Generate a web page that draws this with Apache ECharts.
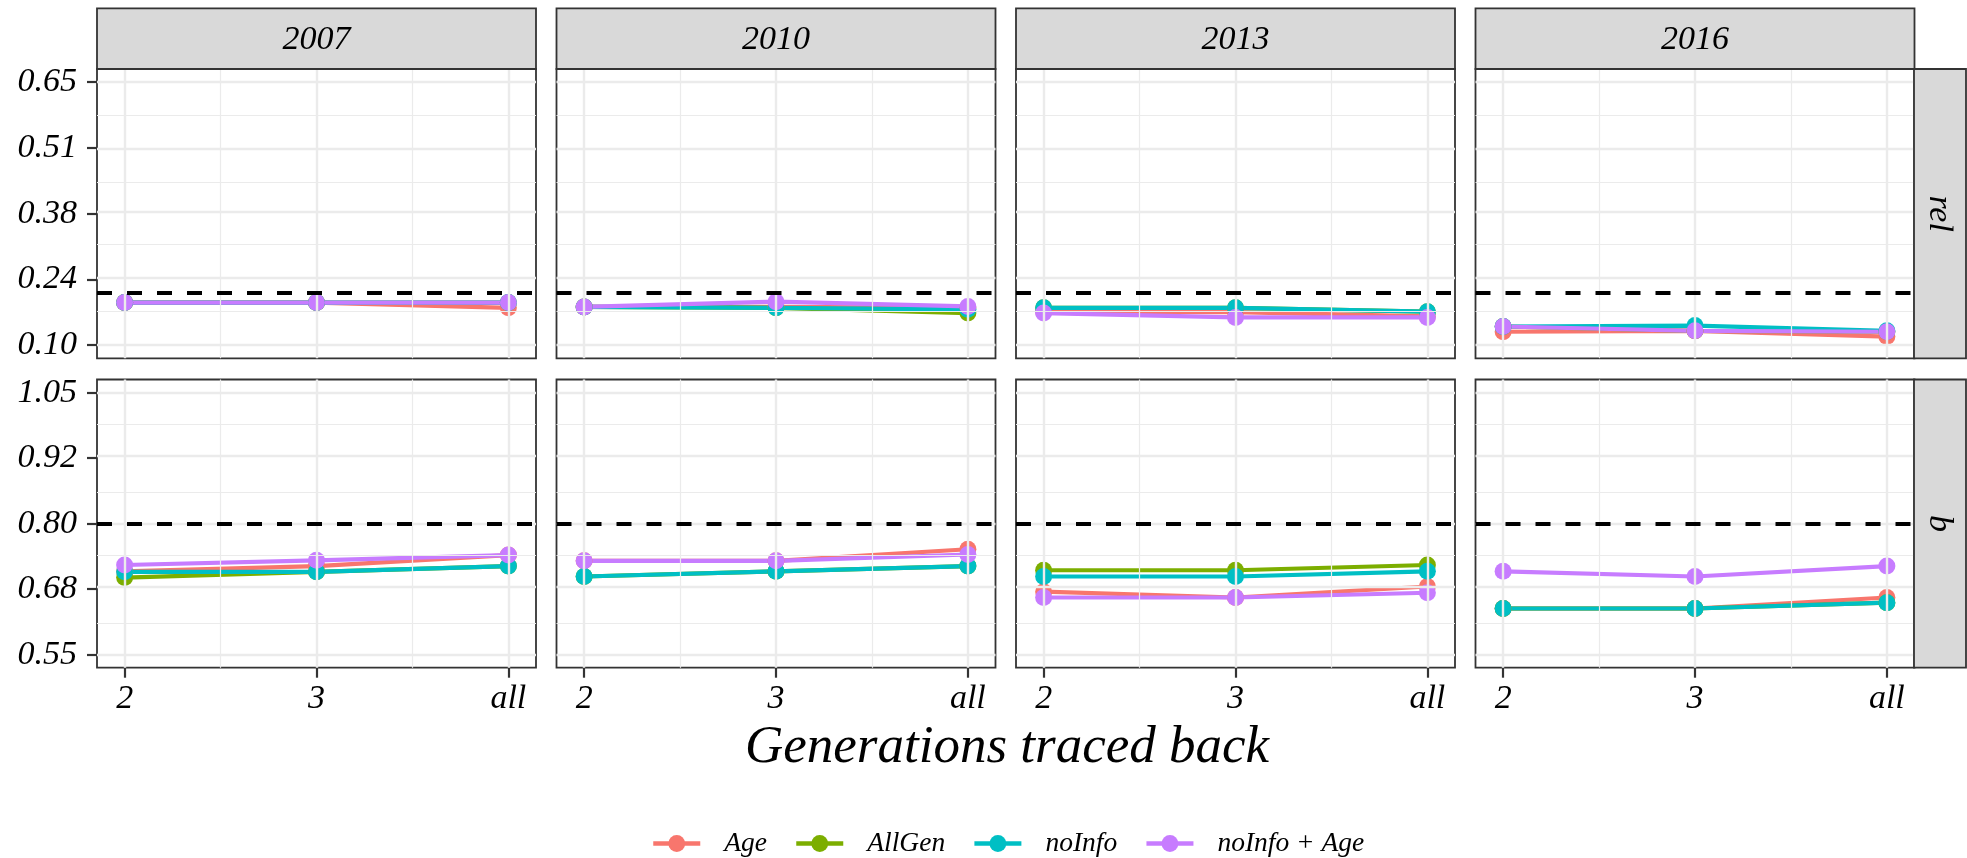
<!DOCTYPE html>
<html>
<head>
<meta charset="utf-8">
<script src="https://cdn.jsdelivr.net/npm/echarts@6/dist/echarts.min.js"></script>
<style>
html,body{margin:0;padding:0;background:#fff;}
#chart{width:1967px;height:858px;}
</style>
</head>
<body>
<div id="chart"></div>
<script>
// ---------------- data ----------------
const categories = ['2', '3', 'all'];
const years = ['2007', '2010', '2013', '2016'];
const facets = ['rel', 'b'];
const seriesNames = ['Age', 'AllGen', 'noInfo', 'noInfo + Age'];

const relTicks = [0.10, 0.2375, 0.375, 0.5125, 0.65];
const relTickLabels = ['0.10', '0.24', '0.38', '0.51', '0.65'];
const bTicks = [0.55, 0.675, 0.80, 0.925, 1.05];
const bTickLabels = ['0.55', '0.68', '0.80', '0.92', '1.05'];
const refLines = [0.21, 0.80];

// each array: one row per year (2007, 2010, 2013, 2016), values for 2, 3, all
const relAge       = [[0.189, 0.189, 0.178], [0.180, 0.180, 0.178], [0.170, 0.169, 0.160], [0.128, 0.130, 0.118]];
const relAllGen    = [[0.189, 0.189, 0.189], [0.180, 0.178, 0.167], [0.178, 0.178, 0.170], [0.139, 0.130, 0.128]];
const relNoInfo    = [[0.189, 0.189, 0.189], [0.180, 0.178, 0.175], [0.178, 0.178, 0.170], [0.139, 0.141, 0.130]];
const relNoInfoAge = [[0.189, 0.189, 0.189], [0.180, 0.191, 0.181], [0.167, 0.158, 0.158], [0.139, 0.130, 0.128]];

const bAge       = [[0.709, 0.719, 0.740], [0.729, 0.729, 0.751], [0.670, 0.659, 0.680], [0.638, 0.638, 0.659]];
const bAllGen    = [[0.697, 0.708, 0.719], [0.699, 0.709, 0.719], [0.711, 0.711, 0.721], [0.638, 0.638, 0.649]];
const bNoInfo    = [[0.708, 0.708, 0.719], [0.699, 0.709, 0.719], [0.699, 0.699, 0.709], [0.638, 0.638, 0.649]];
const bNoInfoAge = [[0.721, 0.730, 0.740], [0.729, 0.729, 0.741], [0.659, 0.659, 0.668], [0.709, 0.699, 0.719]];

// ---------------- layout / style ----------------
const colors = ['#F8766D', '#7CAE00', '#00BFC4', '#C77CFF'];
const FONT = '"Liberation Serif", "Times New Roman", serif';
const colLeft0 = 97, colStep = 459.5, panelW = 439;
const rowTop = [69, 379.5], rowH = [289.3, 288.2];
const yRanges = [[0.0725, 0.6775], [0.525, 1.075]];
const xRange = [-0.144, 2.144];
const stripTop = 8.3, stripRightX = 1914, stripRightW = 52;

const facetData = [
  [relAge, relAllGen, relNoInfo, relNoInfoAge],
  [bAge, bAllGen, bNoInfo, bNoInfoAge]
];
const facetTicks = [relTicks, bTicks];
const facetLabels = [relTickLabels, bTickLabels];

const option = {
  animation: false,
  grid: [], xAxis: [], yAxis: [], series: [],
  legend: {
    data: seriesNames,
    left: 646, top: 825,
    itemWidth: 47, itemHeight: 21, itemGap: 27,
    selectedMode: false,
    lineStyle: { width: 4.5 },
    textStyle: { fontFamily: FONT, fontStyle: 'italic', fontSize: 27.5, color: '#000', padding: [0, 0, 0, 19] }
  },
  graphic: []
};

for (let r = 0; r < 2; r++) {
  const ticks = facetTicks[r];
  const labels = facetLabels[r];
  const minors = [];
  for (let k = 0; k < ticks.length - 1; k++) minors.push((ticks[k] + ticks[k + 1]) / 2);
  for (let c = 0; c < 4; c++) {
    const idx = r * 4 + c;
    const left = colLeft0 + c * colStep;
    option.grid.push({
      left: left, top: rowTop[r], width: panelW, height: rowH[r],
      show: true, backgroundColor: '#fff', borderColor: '#333', borderWidth: 1.8,
      containLabel: false, outerBoundsMode: 'none'
    });
    option.xAxis.push({
      type: 'value', gridIndex: idx, min: xRange[0], max: xRange[1], position: 'bottom',
      splitLine: { show: false }, axisLine: { show: false, onZero: false },
      axisTick: { show: r === 1, customValues: [0, 1, 2], length: 10, lineStyle: { color: '#333', width: 2.2 } },
      axisLabel: {
        show: r === 1, customValues: [0, 1, 2], margin: 14,
        formatter: v => categories[Math.round(v)],
        fontFamily: FONT, fontStyle: 'italic', fontSize: 34, color: '#000'
      }
    });
    option.yAxis.push({
      type: 'value', gridIndex: idx, min: yRanges[r][0], max: yRanges[r][1], position: 'left',
      splitLine: { show: false }, axisLine: { show: false, onZero: false },
      axisTick: { show: c === 0, customValues: ticks, length: 10, lineStyle: { color: '#333', width: 2.2 } },
      axisLabel: {
        show: c === 0, customValues: ticks, margin: 20,
        formatter: v => { let bi = 0; ticks.forEach((t, i) => { if (Math.abs(t - v) < Math.abs(ticks[bi] - v)) bi = i; }); return labels[bi]; },
        fontFamily: FONT, fontStyle: 'italic', fontSize: 34, color: '#000'
      }
    });
    // grid lines + reference line
    const ml = [];
    minors.forEach(v => ml.push({ yAxis: v, lineStyle: { color: '#EBEBEB', width: 1.2, type: 'solid' } }));
    [0.5, 1.5].forEach(v => ml.push({ xAxis: v, lineStyle: { color: '#EBEBEB', width: 1.2, type: 'solid' } }));
    ticks.forEach(v => ml.push({ yAxis: v, lineStyle: { color: '#EBEBEB', width: 2.4, type: 'solid' } }));
    [0, 1, 2].forEach(v => ml.push({ xAxis: v, lineStyle: { color: '#EBEBEB', width: 2.4, type: 'solid' } }));
    option.series.push({
      type: 'line', name: '_grid' + idx, xAxisIndex: idx, yAxisIndex: idx, data: [], z: 1, silent: true,
      markLine: { silent: true, symbol: ['none', 'none'], label: { show: false }, animation: false, emphasis: { disabled: true }, data: ml }
    });
    option.series.push({
      type: 'line', name: '_ref' + idx, xAxisIndex: idx, yAxisIndex: idx, data: [], z: 2, silent: true,
      markLine: { silent: true, symbol: ['none', 'none'], label: { show: false }, animation: false, emphasis: { disabled: true },
        data: [{ yAxis: refLines[r], lineStyle: { color: '#000', width: 4, type: [15, 15] } }] }
    });
    // lines
    seriesNames.forEach((name, s) => {
      option.series.push({
        type: 'line', name: name, xAxisIndex: idx, yAxisIndex: idx,
        data: facetData[r][s][c].map((v, i) => [i, v]),
        symbol: 'circle', showSymbol: false, symbolSize: 17,
        lineStyle: { color: colors[s], width: 4.2 }, itemStyle: { color: colors[s] },
        z: 3, silent: true, emphasis: { disabled: true }
      });
    });
    // points
    seriesNames.forEach((name, s) => {
      option.series.push({
        type: 'scatter', name: name, xAxisIndex: idx, yAxisIndex: idx,
        data: facetData[r][s][c].map((v, i) => [i, v]),
        symbol: 'circle', symbolSize: 17, itemStyle: { color: colors[s], opacity: 1 },
        z: 4, silent: true, emphasis: { disabled: true }
      });
    });
  }
}

// top strips
years.forEach((y, c) => {
  const left = colLeft0 + c * colStep;
  option.graphic.push({
    type: 'rect', shape: { x: left, y: stripTop, width: panelW, height: rowTop[0] - stripTop },
    style: { fill: '#D9D9D9', stroke: '#333', lineWidth: 1.8 }, z: 10, silent: true
  });
  option.graphic.push({
    type: 'text', x: left + panelW / 2, y: (stripTop + rowTop[0]) / 2 + 1,
    style: { text: y, fill: '#000', font: 'italic 34px ' + FONT, textAlign: 'center', textVerticalAlign: 'middle' },
    z: 11, silent: true
  });
});
// right strips
facets.forEach((f, r) => {
  option.graphic.push({
    type: 'rect', shape: { x: stripRightX, y: rowTop[r], width: stripRightW, height: rowH[r] },
    style: { fill: '#D9D9D9', stroke: '#333', lineWidth: 1.8 }, z: 10, silent: true
  });
  option.graphic.push({
    type: 'text', x: stripRightX + stripRightW / 2 - 1, y: rowTop[r] + rowH[r] / 2, rotation: -Math.PI / 2,
    style: { text: f, fill: '#000', font: 'italic 34px ' + FONT, textAlign: 'center', textVerticalAlign: 'middle' },
    z: 11, silent: true
  });
});
// x axis title
option.graphic.push({
  type: 'text', x: 1007, y: 748,
  style: { text: 'Generations traced back', fill: '#000', font: 'italic 53px ' + FONT, textAlign: 'center', textVerticalAlign: 'middle' },
  silent: true
});

const chart = echarts.init(document.getElementById('chart'), null, { renderer: 'canvas' });
chart.setOption(option);
</script>
</body>
</html>
